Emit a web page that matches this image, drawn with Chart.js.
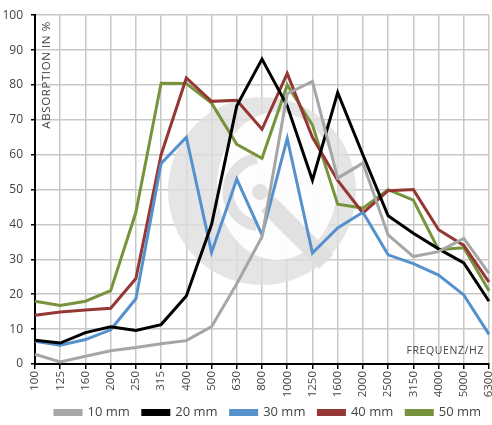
<!DOCTYPE html>
<html>
<head>
<meta charset="utf-8">
<script src="https://cdn.jsdelivr.net/npm/chart.js@4.4.1/dist/chart.umd.min.js"></script>
<style>
html,body{margin:0;padding:0;background:#fff;overflow:hidden;}
#wrap{width:492px;height:425px;position:relative;overflow:hidden;}
canvas{display:block;}
</style>
</head>
<body>
<div id="wrap"><canvas id="c" width="492" height="425"></canvas></div>
<script>
const categories = ['100','125','160','200','250','315','400','500','630','800','1000','1250','1600','2000','2500','3150','4000','5000','6300'];
const seriesNames = ['10 mm','20 mm','30 mm','40 mm','50 mm'];
const mm10 = [2.8, 0.6, 2.2, 3.8, 4.7, 5.8, 6.7, 10.7, 23, 36.5, 77.5, 81, 53.3, 57.6, 37, 30.8, 32.2, 36, 26];
const mm20 = [6.8, 6, 9, 10.7, 9.6, 11.3, 19.5, 40, 74, 87.4, 74, 52.7, 77.8, 60, 42.5, 37.5, 33, 29, 18];
const mm30 = [6.5, 5.4, 7, 9.8, 18.7, 57.5, 65, 32, 53, 37, 64.7, 31.8, 39, 43.5, 31.3, 28.8, 25.5, 19.8, 8.5];
const mm40 = [14, 14.9, 15.5, 16, 24.5, 60, 82, 75.3, 75.6, 67.3, 83.3, 65, 52.6, 43.3, 49.7, 50, 38.5, 34, 23.5];
const mm50 = [18, 16.8, 18, 21, 43.5, 80.5, 80.4, 74.8, 63, 59, 80, 68.5, 45.8, 44.7, 50, 47, 32.8, 33.3, 21];
const yTicks = [0,10,20,30,40,50,60,70,80,90,100];
const colors = ['#a6a6a6','#000000','#5591cc','#953735','#77933c'];
const allSeries = [mm10, mm20, mm30, mm40, mm50];

const FONT = "'Open Sans', 'DejaVu Sans', sans-serif";
const LEGEND_PAD = 13;

const watermark = {
  id: 'watermark',
  afterLayout(chart) {
    const lg = chart.legend;
    if (lg) {
      lg.top += 4; lg.bottom += 4;
      let dx = 0;
      if (lg.lineWidths && lg.lineWidths.length) {
        const start = (lg.left + LEGEND_PAD + lg.right - lg.lineWidths[0]) / 2;
        dx = 55 - start;
        if (!isFinite(dx)) dx = 0;
      }
      if (!lg._origDraw) lg._origDraw = lg.draw;
      const orig = lg._origDraw;
      lg.draw = function() {
        const ctx = this.ctx;
        ctx.save();
        ctx.translate(dx, 0);
        orig.apply(this, arguments);
        ctx.restore();
      };
    }
    if (chart.scales.x) { chart.scales.x.bottom = chart.height; }
  },
  beforeDatasetsDraw(chart) {
    const ctx = chart.ctx;
    ctx.save();
    ctx.fillStyle = 'rgba(222,222,222,0.8)';
    ctx.beginPath(); ctx.arc(262, 191, 94, 0, Math.PI*2); ctx.fill();
    ctx.fillStyle = 'rgba(255,255,255,0.92)';
    ctx.beginPath(); ctx.ellipse(277, 186, 60, 74, 0, 0, Math.PI*2); ctx.fill();
    ctx.strokeStyle = 'rgba(222,222,222,0.9)';
    ctx.lineWidth = 11;
    ctx.beginPath(); ctx.arc(262, 192, 34, Math.PI*0.55, Math.PI*1.45); ctx.stroke();
    ctx.lineWidth = 20;
    ctx.lineCap = 'butt';
    ctx.beginPath(); ctx.moveTo(268, 204); ctx.lineTo(326, 262); ctx.stroke();
    ctx.fillStyle = 'rgba(222,222,222,0.9)';
    ctx.beginPath(); ctx.arc(260, 192, 8, 0, Math.PI*2); ctx.fill();
    ctx.restore();
  },
  afterDatasetsDraw(chart) {
    const ctx = chart.ctx;
    const a = chart.chartArea;
    ctx.save();
    ctx.fillStyle = '#444';
    ctx.font = "11.5px " + FONT;
    try { ctx.letterSpacing = '0.6px'; } catch(e) {}
    ctx.translate(a.left + 12, a.top + 6);
    ctx.rotate(-Math.PI/2);
    ctx.textAlign = 'right';
    ctx.textBaseline = 'middle';
    ctx.fillText('ABSORPTION IN %', 0, 0);
    ctx.restore();
    ctx.save();
    ctx.fillStyle = '#444';
    ctx.font = "10.5px " + FONT;
    try { ctx.letterSpacing = '0.6px'; } catch(e) {}
    ctx.textAlign = 'right';
    ctx.textBaseline = 'middle';
    ctx.fillText('FREQUENZ/HZ', a.right - 5, a.bottom - 13);
    ctx.restore();
  }
};

new Chart(document.getElementById('c'), {
  type: 'line',
  data: {
    labels: categories,
    datasets: allSeries.map((d, i) => ({
      label: seriesNames[i],
      data: d,
      borderColor: colors[i],
      backgroundColor: colors[i],
      borderWidth: 3,
      pointRadius: 0,
      tension: 0,
      fill: false
    }))
  },
  options: {
    responsive: false,
    animation: false,
    devicePixelRatio: 1,
    layout: { autoPadding: false, padding: { top: 15, right: 3, left: 0, bottom: 0 } },
    plugins: {
      tooltip: { enabled: false },
      legend: {
        position: 'bottom',
        labels: {
          boxWidth: 26,
          boxHeight: 4,
          padding: LEGEND_PAD,
          color: '#444',
          font: { family: FONT, size: 13 }
        }
      }
    },
    scales: {
      x: {
        type: 'category',
        offset: false,
        afterFit(s) { s.height = 25; s.paddingLeft = 0; s.paddingRight = 0; },
        grid: { color: '#c8c8c8', lineWidth: 1.5, tickLength: 5, tickColor: '#000', drawTicks: true },
        border: { color: '#000', width: 2 },
        ticks: {
          autoSkip: false, maxRotation: 90, minRotation: 90, padding: 2,
          color: '#444', font: { family: FONT, size: 11.5 }
        }
      },
      y: {
        min: 0, max: 100,
        afterFit(s) { s.width = 35; },
        afterBuildTicks(s) { s.ticks = yTicks.map(v => ({ value: v })); },
        grid: { color: '#c8c8c8', lineWidth: 1.5, tickLength: 4, tickColor: '#000' },
        border: { color: '#000', width: 2 },
        ticks: { padding: 8, color: '#444', font: { family: FONT, size: 12 } }
      }
    }
  },
  plugins: [watermark]
});
</script>
</body>
</html>
